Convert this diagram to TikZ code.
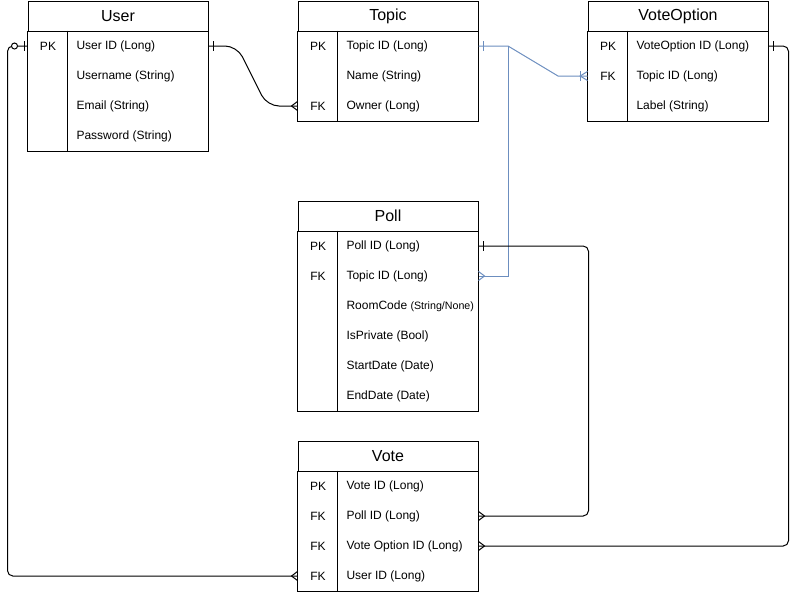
\documentclass[tikz,border=0pt]{standalone}
\usepackage{fontspec}
\setmainfont{Liberation Sans}
\usetikzlibrary{decorations.markings}
\definecolor{linkblue}{RGB}{108,142,191}

\begin{document}
\begin{tikzpicture}[x=0.75pt, y=-0.75pt, line width=0.75pt,
  head/.style={draw, minimum width=135pt, minimum height=22.5pt, inner sep=0, font=\fontsize{12}{14}\selectfont},
  row/.style={minimum width=135pt, minimum height=22.5pt, inner sep=0},
  key/.style={inner sep=0, font=\fontsize{9}{11}\selectfont},
  field/.style={inner sep=0, anchor=west, font=\fontsize{9}{11}\selectfont},
  blueline/.style={color=linkblue},
  onestart/.style={postaction={decorate, decoration={markings,
    mark=at position 3.5pt with {\draw[sharp corners] (0,-3.4pt) -- (0,3.4pt);}}}},
  zeroonestart/.style={postaction={decorate, decoration={markings,
    mark=at position 2.5pt with {\draw[sharp corners] (0,-3.4pt) -- (0,3.4pt);},
    mark=at position 9.75pt with {\draw[fill=white] (0,0) circle (2.25pt);}}}},
  manyend/.style={postaction={decorate, decoration={markings,
    mark=at position -4.5pt with {\draw[sharp corners] (4.5pt,3.4pt) -- (0,0) -- (4.5pt,-3.4pt);}}}},
  onemanyend/.style={postaction={decorate, decoration={markings,
    mark=at position -5.5pt with {\draw[sharp corners] (5.5pt,3.4pt) -- (0,0) -- (5.5pt,-3.4pt);},
    mark=at position -5.5pt with {\draw[sharp corners] (0,-3.4pt) -- (0,3.4pt);}}}}]
\useasboundingbox (0,-1) rectangle (798,592);

% User
\node[head] (user) at (118,15) {User};
\foreach \n/\k/\t [count=\i] in {uid/PK/User ID (Long), uname//Username (String), umail//Email (String), upass//Password (String)}
{
\node[row] (\n) at (118,15+30*\i) {};
\node[key] (\n-k) at (48,15+30*\i) {\k};
\node[field] (\n-t) at (76,15+30*\i) {\t};
}
\draw (user.south west) rectangle (upass.south east);
\draw ([xshift=30pt]uid.north west) -- ([xshift=30pt]upass.south west);

% Topic
\node[head] (topic) at (388,15) {Topic};
\foreach \n/\k/\t [count=\i] in {tid/PK/Topic ID (Long), tname//Name (String), towner/FK/Owner (Long)}
{
\node[row] (\n) at (388,15+30*\i) {};
\node[key] (\n-k) at (318,15+30*\i) {\k};
\node[field] (\n-t) at (346,15+30*\i) {\t};
}
\draw (topic.south west) rectangle (towner.south east);
\draw ([xshift=30pt]tid.north west) -- ([xshift=30pt]towner.south west);

% VoteOption
\node[head] (voteoption) at (678,15) {VoteOption};
\foreach \n/\k/\t [count=\i] in {voptid/PK/VoteOption ID (Long), vtopic/FK/Topic ID (Long), vlabel//Label (String)}
{
\node[row] (\n) at (678,15+30*\i) {};
\node[key] (\n-k) at (608,15+30*\i) {\k};
\node[field] (\n-t) at (636,15+30*\i) {\t};
}
\draw (voteoption.south west) rectangle (vlabel.south east);
\draw ([xshift=30pt]voptid.north west) -- ([xshift=30pt]vlabel.south west);

% Poll
\node[head] (poll) at (388,215) {Poll};
\foreach \n/\k/\t [count=\i] in {pid/PK/Poll ID (Long), ptopic/FK/Topic ID (Long), proom//{RoomCode {\fontsize{8}{9}\selectfont (String/None)}}, pprivate//IsPrivate (Bool), pstart//StartDate (Date), pend//EndDate (Date)}
{
\node[row] (\n) at (388,215+30*\i) {};
\node[key] (\n-k) at (318,215+30*\i) {\k};
\node[field] (\n-t) at (346,215+30*\i) {\t};
}
\draw (poll.south west) rectangle (pend.south east);
\draw ([xshift=30pt]pid.north west) -- ([xshift=30pt]pend.south west);

% Vote
\node[head] (vote) at (388,455) {Vote};
\foreach \n/\k/\t [count=\i] in {vid/PK/Vote ID (Long), vpoll/FK/Poll ID (Long), vopt/FK/Vote Option ID (Long), vuser/FK/User ID (Long)}
{
\node[row] (\n) at (388,455+30*\i) {};
\node[key] (\n-k) at (318,455+30*\i) {\k};
\node[field] (\n-t) at (346,455+30*\i) {\t};
}
\draw (vote.south west) rectangle (vuser.south east);
\draw ([xshift=30pt]vid.north west) -- ([xshift=30pt]vuser.south west);

% Relations
\draw[onestart, manyend, rounded corners=9pt] (uid.east) -- (237,45) -- (267,105) -- (towner.west);
\coordinate (tsplit) at (508,45);
\draw[blueline, onestart, onemanyend] (tid.east) -- (tsplit) -- (558,75) -- (vtopic.west);
\draw[blueline, manyend] (tsplit) |- (ptopic.east);
\draw[onestart, manyend, rounded corners=4pt] (pid.east) -- ++(110,0) |- (vpoll.east);
\draw[onestart, manyend, rounded corners=4pt] (voptid.east) -- ++(20,0) |- (vopt.east);
\draw[zeroonestart, manyend, rounded corners=4pt] (uid.west) -- ++(-20,0) |- (vuser.west);
\end{tikzpicture}
\end{document}
